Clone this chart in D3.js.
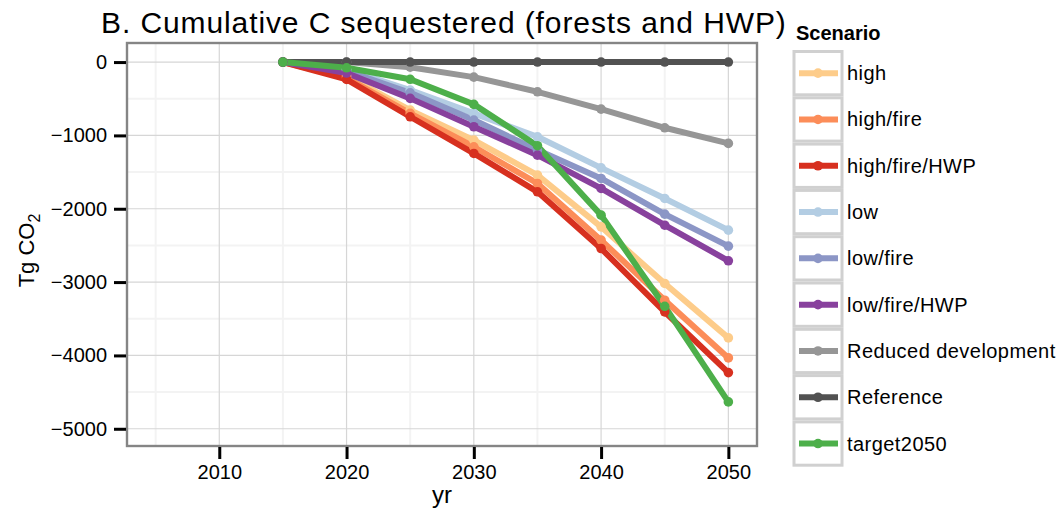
<!DOCTYPE html>
<html>
<head>
<meta charset="utf-8">
<script src="https://cdn.jsdelivr.net/npm/d3@7"></script>
<style>
  html, body { margin: 0; padding: 0; background: #fff; }
  svg { display: block; font-family: "Liberation Sans", Arial, Helvetica, sans-serif; }
</style>
</head>
<body>
<svg id="chart" width="1062" height="519"></svg>
<script>
// Years on the x axis
const years = [2015, 2020, 2025, 2030, 2035, 2040, 2045, 2050];

// Scenario names, in legend / drawing order
const scenarios = ["high", "high/fire", "high/fire/HWP", "low", "low/fire", "low/fire/HWP",
                   "Reduced development", "Reference", "target2050"];

// Cumulative C sequestered (Tg CO2) per scenario, one value per year
const highVals        = [0, -190, -655, -1064, -1542, -2247, -3019, -3761];
const highFireVals    = [0, -215, -700, -1155, -1655, -2428, -3247, -4034];
const highFireHwpVals = [0, -236, -746, -1246, -1769, -2542, -3406, -4234];
const lowVals         = [0, -100, -382, -700, -1019, -1442, -1860, -2292];
const lowFireVals     = [0, -120, -420, -791, -1200, -1587, -2074, -2510];
const lowFireHwpVals  = [0, -150, -495, -882, -1269, -1723, -2224, -2710];
const reducedDevVals  = [0, 0, -70, -205, -405, -641, -896, -1109];
const referenceVals   = [0, 0, 0, 0, 0, 0, 0, 0];
const target2050Vals  = [0, -78, -235, -577, -1140, -2087, -3330, -4634];

const seriesValues = [highVals, highFireVals, highFireHwpVals, lowVals, lowFireVals,
                      lowFireHwpVals, reducedDevVals, referenceVals, target2050Vals];

const colors = ["#FDCC8A", "#FC8D59", "#D7301F", "#B3CDE3", "#8C96C6", "#88419D",
                "#969696", "#525252", "#4DAF4A"];

// Axis ticks
const xTicks = [2010, 2020, 2030, 2040, 2050];
const xMinor = [2005, 2015, 2025, 2035, 2045];
const yTicks = [0, -1000, -2000, -3000, -4000, -5000];
const yMinor = [-500, -1500, -2500, -3500, -4500];

const svg = d3.select("#chart");
const panel = { left: 127, right: 757, top: 43, bottom: 446 };

const x = d3.scaleLinear().domain([2002.75, 2052.25]).range([panel.left, panel.right]);
const y = d3.scaleLinear().domain([260, -5235]).range([panel.top, panel.bottom]);

// Panel background
svg.append("rect")
  .attr("x", panel.left).attr("y", panel.top)
  .attr("width", panel.right - panel.left).attr("height", panel.bottom - panel.top)
  .attr("fill", "#fff");

// Minor grid
const grid = svg.append("g");
grid.selectAll(".xminor").data(xMinor).join("line")
  .attr("x1", d => x(d)).attr("x2", d => x(d))
  .attr("y1", panel.top).attr("y2", panel.bottom)
  .attr("stroke", "#f3f3f3").attr("stroke-width", 2);
grid.selectAll(".yminor").data(yMinor).join("line")
  .attr("y1", d => y(d)).attr("y2", d => y(d))
  .attr("x1", panel.left).attr("x2", panel.right)
  .attr("stroke", "#f3f3f3").attr("stroke-width", 2);
// Major grid
grid.selectAll(".xmajor").data(xTicks).join("line")
  .attr("x1", d => x(d)).attr("x2", d => x(d))
  .attr("y1", panel.top).attr("y2", panel.bottom)
  .attr("stroke", "#d6d6d6").attr("stroke-width", 1.2);
grid.selectAll(".ymajor").data(yTicks).join("line")
  .attr("y1", d => y(d)).attr("y2", d => y(d))
  .attr("x1", panel.left).attr("x2", panel.right)
  .attr("stroke", "#d6d6d6").attr("stroke-width", 1.2);

// Series
const series = scenarios.map((name, i) => ({
  name, color: colors[i],
  points: years.map((yr, j) => ({ yr, v: seriesValues[i][j] }))
}));

const line = d3.line().x(d => x(d.yr)).y(d => y(d.v));

svg.append("g").selectAll("path").data(series).join("path")
  .attr("d", d => line(d.points))
  .attr("fill", "none")
  .attr("stroke", d => d.color)
  .attr("stroke-width", 6)
  .attr("stroke-linejoin", "round");

const ptLayer = svg.append("g");
series.forEach(s => {
  ptLayer.append("g").selectAll("circle").data(s.points).join("circle")
    .attr("cx", d => x(d.yr)).attr("cy", d => y(d.v))
    .attr("r", 4.8).attr("fill", s.color);
});

// Panel border
svg.append("rect")
  .attr("x", panel.left).attr("y", panel.top)
  .attr("width", panel.right - panel.left).attr("height", panel.bottom - panel.top)
  .attr("fill", "none").attr("stroke", "#858585").attr("stroke-width", 2.4);

// Axes
const xAxis = d3.axisBottom(x).tickValues(xTicks).tickFormat(d3.format("d"))
  .tickSize(12).tickPadding(6);
const gx = svg.append("g").attr("transform", `translate(0,${panel.bottom + 1})`).call(xAxis);
gx.select(".domain").remove();
gx.selectAll(".tick line").attr("stroke", "#000").attr("stroke-width", 3);
gx.selectAll(".tick text").attr("fill", "#000").style("font-size", "20px")
  .style("font-family", "'Liberation Sans', Arial, sans-serif");

const yAxis = d3.axisLeft(y).tickValues(yTicks).tickFormat(d => d3.format("d")(d))
  .tickSize(12).tickPadding(7);
const gy = svg.append("g").attr("transform", `translate(${panel.left - 1},0)`).call(yAxis);
gy.select(".domain").remove();
gy.selectAll(".tick line").attr("stroke", "#000").attr("stroke-width", 3);
gy.selectAll(".tick text").attr("fill", "#000").style("font-size", "20px")
  .style("font-family", "'Liberation Sans', Arial, sans-serif");

// Title
svg.append("text")
  .attr("x", 101).attr("y", 33)
  .style("font-size", "30px")
  .style("letter-spacing", "0.9px")
  .text("B. Cumulative C sequestered (forests and HWP)");

// Axis titles
svg.append("text")
  .attr("x", (panel.left + panel.right) / 2).attr("y", 503)
  .attr("text-anchor", "middle")
  .style("font-size", "24px")
  .text("yr");

const yt = svg.append("text")
  .attr("transform", `translate(34,${(panel.top + panel.bottom) / 2 + 6}) rotate(-90)`)
  .attr("text-anchor", "middle")
  .style("font-size", "22px");
yt.append("tspan").text("Tg CO");
yt.append("tspan").attr("dy", 6).style("font-size", "16px").text("2");

// Legend
const legend = svg.append("g");
legend.append("text")
  .attr("x", 796).attr("y", 40)
  .style("font-size", "20px").style("font-weight", "bold")
  .text("Scenario");

const keyH = 46.3, keyTop = 50, keyLeft = 794, keyW = 48;
const keys = legend.selectAll(".key").data(series).join("g")
  .attr("transform", (d, i) => `translate(0,${keyTop + i * keyH})`);
keys.append("rect")
  .attr("x", keyLeft).attr("y", 1.5)
  .attr("width", keyW).attr("height", keyH - 3)
  .attr("fill", "#fff").attr("stroke", "#d0d0d0").attr("stroke-width", 3);
keys.append("line")
  .attr("x1", keyLeft + 5).attr("x2", keyLeft + keyW - 4)
  .attr("y1", keyH / 2).attr("y2", keyH / 2)
  .attr("stroke", d => d.color).attr("stroke-width", 6);
keys.append("circle")
  .attr("cx", keyLeft + keyW / 2).attr("cy", keyH / 2).attr("r", 4.8)
  .attr("fill", d => d.color);
keys.append("text")
  .attr("x", 847).attr("y", keyH / 2 + 7)
  .style("font-size", "20px")
  .style("letter-spacing", "0.45px")
  .text(d => d.name);
</script>
</body>
</html>
